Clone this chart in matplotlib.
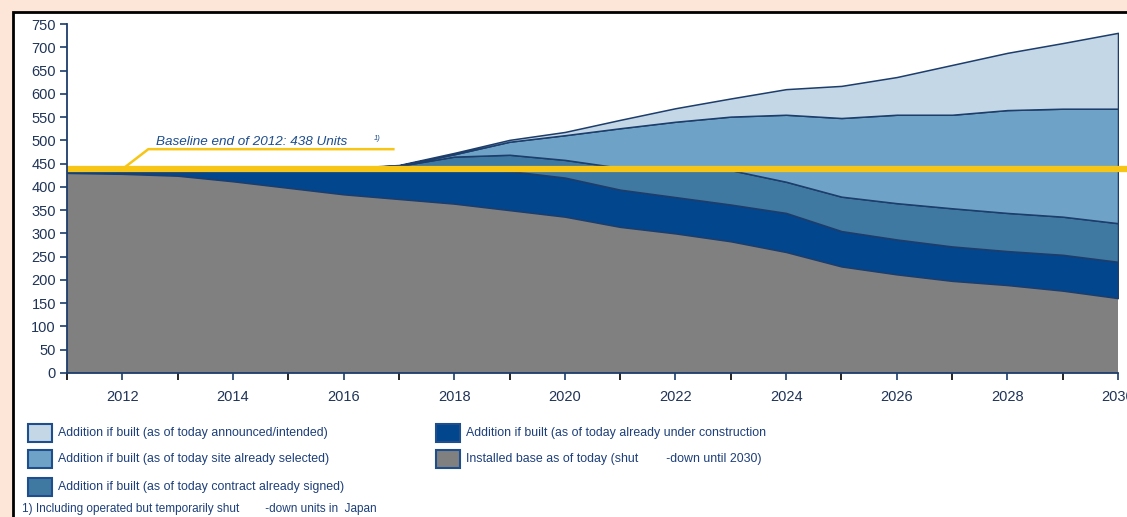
import matplotlib.pyplot as plt
from matplotlib.patches import Rectangle
import numpy as np

plt.rcParams['font.family'] = ['Liberation Sans', 'DejaVu Sans']

# Reactor units per year, stacked from the bottom up
years = np.arange(2011, 2031)
installed_base = [430, 428, 424, 412, 398, 384, 374, 364, 350, 336,
                  314, 300, 283, 260, 229, 212, 198, 189, 177, 161]
under_construction = [10, 6, 9, 24, 40, 54, 66, 76, 84, 84,
                      80, 78, 79, 84, 76, 75, 74, 73, 77, 78]
contract_signed = [0, 0, 0, 0, 0, 2, 5, 25, 35, 38,
                   47, 60, 74, 67, 74, 78, 82, 82, 82, 83]
site_selected = [0, 0, 0, 0, 0, 0, 1, 5, 28, 53,
                 85, 102, 115, 144, 169, 190, 201, 221, 232, 246]
announced = [0, 0, 0, 0, 0, 0, 1, 3, 4, 7,
             18, 29, 39, 55, 69, 81, 107, 123, 141, 163]
baseline = 438

layers = [installed_base, under_construction, contract_signed, site_selected, announced]
colors = ['#808080', '#02468e', '#3f78a1', '#6ea3c7', '#c3d7e7']

legend_left = ['Addition if built (as of today announced/intended)',
               'Addition if built (as of today site already selected)',
               'Addition if built (as of today contract already signed)']
legend_right = ['Addition if built (as of today already under construction',
                'Installed base as of today (shut        -down until 2030)']

W, H = 1127, 517
fig = plt.figure(figsize=(W / 100, H / 100), dpi=100, facecolor='#fde6d8')

# white panel with black frame, kept behind the axes
fig.patches.append(Rectangle((13 / W, -0.01), 1.0, 1 - 12 / H + 0.01, transform=fig.transFigure,
                             facecolor='white', edgecolor='black', linewidth=2, zorder=-5))

ax = fig.add_axes([67 / W, 1 - 373 / H, (1118 - 67) / W, (373 - 24) / H])
ax.set_facecolor('none')
ax.set_zorder(2)

polys = ax.stackplot(years, *layers, colors=colors, linewidth=0)
for p in polys[1:]:
    p.set_edgecolor('#1d3d6b')
    p.set_linewidth(1.1)

# baseline end of 2012
ax.plot([2011, 2030.2], [baseline, baseline], color='#f6c515', linewidth=4.5,
        solid_capstyle='butt', clip_on=False, zorder=5)
ax.plot([2012.0, 2012.47, 2016.9], [baseline, 481, 481], color='#f6c515',
        linewidth=1.8, zorder=5)
ax.text(2012.6, 496, 'Baseline end of 2012: 438 Units', style='italic',
        fontsize=9.7, color='#1f4e8c', va='center', ha='left')
ax.text(2016.55, 505, '1)', style='italic', fontsize=5.5, color='#1f4e8c',
        va='center', ha='left')

ax.set_xlim(2011, 2030)
ax.set_ylim(0, 750)
ax.set_yticks(np.arange(0, 751, 50))
ax.set_xticks(np.arange(2011, 2031), minor=True)
ax.set_xticks(np.arange(2012, 2031, 2))
ax.tick_params(axis='both', colors='#1d3d6b', labelcolor='#1f3458', labelsize=10.5)
ax.tick_params(axis='y', length=5, width=1.2, pad=3)
ax.tick_params(axis='x', which='both', length=5, width=1.2, pad=7)
for side in ['top', 'right']:
    ax.spines[side].set_visible(False)
for side in ['left', 'bottom']:
    ax.spines[side].set_color('#1d3d6b')
    ax.spines[side].set_linewidth(1.3)
    ax.spines[side].set_zorder(6)

# legend drawn as boxes and labels
left_rows = [433, 459, 487]
right_rows = [433, 459]
entries = list(zip(legend_left, [colors[4], colors[3], colors[2]], [28] * 3, left_rows)) + \
    list(zip(legend_right, [colors[1], colors[0]], [436] * 2, right_rows))
for label, col, x0, yc in entries:
    fig.patches.append(Rectangle((x0 / W, 1 - (yc + 9) / H), 24 / W, 18 / H,
                                 transform=fig.transFigure, facecolor=col,
                                 edgecolor='#1f4e8c', linewidth=1.5, zorder=3))
    fig.text((x0 + 30) / W, 1 - yc / H, label, fontsize=8.9, color='#1d3f7a',
             va='center', ha='left')

fig.text(22 / W, 1 - 509 / H, '1) Including operated but temporarily shut        -down units in  Japan',
         fontsize=8.5, color='#1d3f7a', va='center', ha='left')

fig.savefig('out.png', dpi=100, facecolor=fig.get_facecolor())
